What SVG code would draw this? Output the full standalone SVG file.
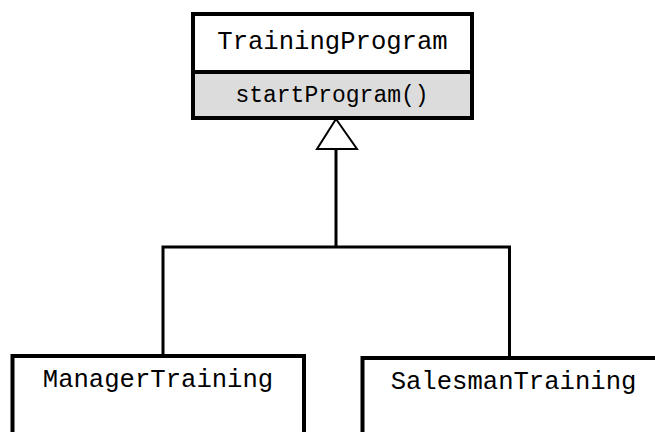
<svg xmlns="http://www.w3.org/2000/svg" width="655" height="432" viewBox="0 0 655 432">
<style>
.box{fill:#fff;stroke:#000;stroke-width:4}
.ops{fill:#dcdcdc;stroke:#000;stroke-width:4}
.cls{font-family:"Liberation Mono","Courier New",monospace;font-size:25.6px;fill:#000;text-anchor:middle}
.op{font-family:"Liberation Mono","Courier New",monospace;font-size:23px;fill:#000;text-anchor:middle}
.ln{fill:none;stroke:#000;stroke-width:3}
</style>
<rect width="655" height="432" fill="#fff"/>
<g id="connectors">
<polyline class="ln" points="336,149 336,247"/>
<polyline class="ln" points="163,356 163,247 509.5,247 509.5,358"/>
<polygon points="336,119 317,149 357,149" fill="#fff" stroke="#000" stroke-width="2"/>
</g>
<g id="TrainingProgram">
<rect class="box" x="193" y="14" width="279" height="58"/>
<rect class="ops" x="193" y="72" width="279" height="46"/>
<text class="cls" x="332.5" y="49">TrainingProgram</text>
<text class="op" x="332" y="102">startProgram()</text>
</g>
<g id="ManagerTraining">
<rect class="box" x="12.5" y="356" width="291.5" height="90"/>
<text class="cls" x="158" y="387">ManagerTraining</text>
</g>
<g id="SalesmanTraining">
<rect class="box" x="362.5" y="358" width="310" height="90"/>
<text class="cls" x="513.5" y="389">SalesmanTraining</text>
</g>
</svg>
